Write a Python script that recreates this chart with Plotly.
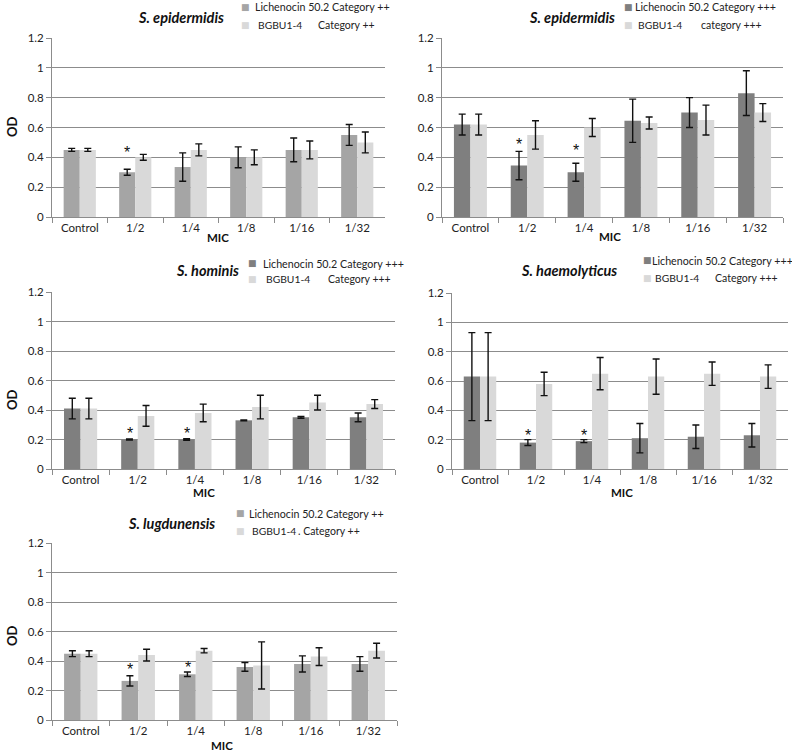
import plotly.graph_objects as go

W, H = 792, 751

categories = ["Control", "1/2", "1/4", "1/8", "1/16", "1/32"]
y_ticks = [0, 0.2, 0.4, 0.6, 0.8, 1, 1.2]
y_tick_labels = ["0", "0.2", "0.4", "0.6", "0.8", "1", "1.2"]

# Panel 1: S. epidermidis, Category ++
epi_pp_lic = [0.45, 0.30, 0.335, 0.40, 0.45, 0.55]
epi_pp_lic_err = [0.01, 0.02, 0.095, 0.07, 0.08, 0.07]
epi_pp_bgb = [0.45, 0.40, 0.45, 0.40, 0.45, 0.50]
epi_pp_bgb_err = [0.01, 0.02, 0.04, 0.05, 0.06, 0.07]
epi_pp_sig = {"1/2": 0.46}

# Panel 2: S. epidermidis, Category +++
epi_ppp_lic = [0.62, 0.345, 0.30, 0.645, 0.70, 0.83]
epi_ppp_lic_err = [0.07, 0.095, 0.06, 0.145, 0.10, 0.15]
epi_ppp_bgb = [0.62, 0.55, 0.60, 0.63, 0.65, 0.70]
epi_ppp_bgb_err = [0.07, 0.095, 0.06, 0.04, 0.10, 0.06]
epi_ppp_sig = {"1/2": 0.515, "1/4": 0.47}

# Panel 3: S. hominis, Category +++
hom_lic = [0.41, 0.20, 0.20, 0.33, 0.35, 0.35]
hom_lic_err = [0.07, 0.004, 0.005, 0.003, 0.006, 0.03]
hom_bgb = [0.41, 0.36, 0.38, 0.42, 0.45, 0.44]
hom_bgb_err = [0.07, 0.07, 0.06, 0.08, 0.05, 0.03]
hom_sig = {"1/2": 0.27, "1/4": 0.27}

# Panel 4: S. haemolyticus, Category +++
hae_lic = [0.63, 0.18, 0.19, 0.21, 0.22, 0.23]
hae_lic_err = [0.30, 0.02, 0.01, 0.10, 0.08, 0.08]
hae_bgb = [0.63, 0.58, 0.65, 0.63, 0.65, 0.63]
hae_bgb_err = [0.30, 0.08, 0.11, 0.12, 0.08, 0.08]
hae_sig = {"1/2": 0.255, "1/4": 0.255}

# Panel 5: S. lugdunensis, Category ++
lug_lic = [0.45, 0.265, 0.31, 0.36, 0.38, 0.38]
lug_lic_err = [0.02, 0.035, 0.015, 0.03, 0.055, 0.05]
lug_bgb = [0.45, 0.44, 0.47, 0.37, 0.43, 0.47]
lug_bgb_err = [0.02, 0.04, 0.015, 0.16, 0.06, 0.05]
lug_sig = {"1/2": 0.37, "1/4": 0.385}

C_PP = "#a5a5a5"
C_PPP = "#7f7f7f"
C_BGB = "#d9d9d9"
GRID = "#8c8c8c"
FONT = "Lato, 'Open Sans', sans-serif"


def px(x, y):
    return x / W, 1 - y / H


panels = [
    dict(title="S. epidermidis", lic=epi_pp_lic, lic_err=epi_pp_lic_err, bgb=epi_pp_bgb,
         bgb_err=epi_pp_bgb_err, sig=epi_pp_sig, col=C_PP,
         box=(52, 385, 38, 217), title_xy=(181, 17), od=(12, 127), mic=(218, 238),
         leg=dict(sq=245, tx=254, y1=7, y2=25, b2x=317,
                  l1="Lichenocin 50.2 Category ++", b1="BGBU1-4", b2="Category ++")),
    dict(title="S. epidermidis", lic=epi_ppp_lic, lic_err=epi_ppp_lic_err, bgb=epi_ppp_bgb,
         bgb_err=epi_ppp_bgb_err, sig=epi_ppp_sig, col=C_PPP,
         box=(442, 783, 38, 217), title_xy=(572, 18), od=None, mic=(610, 236),
         leg=dict(sq=628, tx=634, y1=7, y2=25, b2x=700,
                  l1="Lichenocin 50.2 Category +++", b1="BGBU1-4", b2="category +++")),
    dict(title="S. hominis", lic=hom_lic, lic_err=hom_lic_err, bgb=hom_bgb,
         bgb_err=hom_bgb_err, sig=hom_sig, col=C_PPP,
         box=(52, 395, 292, 469), title_xy=(207, 270), od=(12, 400), mic=(204, 492),
         leg=dict(sq=252, tx=262, y1=263, y2=279, b2x=327,
                  l1="Lichenocin 50.2 Category +++", b1="BGBU1-4", b2="Category +++")),
    dict(title="S. haemolyticus", lic=hae_lic, lic_err=hae_lic_err, bgb=hae_bgb,
         bgb_err=hae_bgb_err, sig=hae_sig, col=C_PPP,
         box=(452, 788, 293, 469), title_xy=(569, 270), od=None, mic=(622, 492),
         leg=dict(sq=647, tx=651, y1=260, y2=278, b2x=714,
                  l1="Lichenocin 50.2 Category +++", b1="BGBU1-4", b2="Category +++")),
    dict(title="S. lugdunensis", lic=lug_lic, lic_err=lug_lic_err, bgb=lug_bgb,
         bgb_err=lug_bgb_err, sig=lug_sig, col=C_PP,
         box=(52, 397, 543, 720), title_xy=(171, 523), od=(12, 636), mic=(222, 745),
         leg=dict(sq=240, tx=248, y1=513, y2=531, b2x=297,
                  l1="Lichenocin 50.2 Category ++", b1="BGBU1-4", b2=". Category ++")),
]

fig = go.Figure()
annotations = []
layout_axes = {}

for i, p in enumerate(panels, start=1):
    xa = "x" if i == 1 else f"x{i}"
    ya = "y" if i == 1 else f"y{i}"
    xkey = "xaxis" if i == 1 else f"xaxis{i}"
    ykey = "yaxis" if i == 1 else f"yaxis{i}"
    x0, x1, ytop, ybot = p["box"]

    fig.add_trace(go.Bar(
        x=categories, y=p["lic"], xaxis=xa, yaxis=ya, marker_color=p["col"],
        marker_line_width=0, showlegend=False, offsetgroup="lic", hoverinfo="skip",
        error_y=dict(type="data", array=p["lic_err"], visible=True, color="#111111",
                     thickness=1.4, width=3.5)))
    fig.add_trace(go.Bar(
        x=categories, y=p["bgb"], xaxis=xa, yaxis=ya, marker_color=C_BGB,
        marker_line_width=0, showlegend=False, offsetgroup="bgb", hoverinfo="skip",
        error_y=dict(type="data", array=p["bgb_err"], visible=True, color="#111111",
                     thickness=1.4, width=3.5)))

    layout_axes[xkey] = dict(
        domain=[x0 / W, x1 / W], anchor=ya, type="category", automargin=False,
        categoryorder="array", categoryarray=categories,
        showline=True, linecolor=GRID, linewidth=1,
        ticks="outside", tickson="boundaries", ticklen=5, tickcolor=GRID,
        showgrid=False, tickfont=dict(family=FONT, size=11.5, color="#222"),
        fixedrange=True)
    layout_axes[ykey] = dict(
        domain=[1 - ybot / H, 1 - ytop / H], anchor=xa, range=[0, 1.2], automargin=False,
        tickmode="array", tickvals=y_ticks, ticktext=y_tick_labels,
        showline=True, linecolor=GRID, linewidth=1,
        ticks="outside", ticklen=5, tickcolor=GRID,
        showgrid=True, gridcolor=GRID, gridwidth=1, zeroline=False,
        tickfont=dict(family=FONT, size=11.5, color="#222"), fixedrange=True)

    # title
    tx, ty = px(*p["title_xy"])
    annotations.append(dict(text=f"<b><i>{p['title']}</i></b>", x=tx, y=ty, xref="paper",
                            yref="paper", showarrow=False, xanchor="center", yanchor="middle",
                            font=dict(family=FONT, size=14.5, color="#111")))
    # OD
    if p["od"]:
        ox, oy = px(*p["od"])
        annotations.append(dict(text="<b>OD</b>", x=ox, y=oy, xref="paper", yref="paper",
                                showarrow=False, textangle=-90, xanchor="center",
                                yanchor="middle", font=dict(family=FONT, size=13, color="#111")))
    # MIC
    mx, my = px(*p["mic"])
    annotations.append(dict(text="<b>MIC</b>", x=mx, y=my, xref="paper", yref="paper",
                            showarrow=False, xanchor="center", yanchor="middle",
                            font=dict(family=FONT, size=11.5, color="#111")))
    # legend
    lg = p["leg"]
    for (yy, colr, txt, tx0, fs) in [(lg["y1"], p["col"], lg["l1"], lg["tx"], 10.7),
                                     (lg["y2"], C_BGB, lg["b1"], lg["tx"] + 3, 10.3)]:
        sx, sy = px(lg["sq"], yy)
        annotations.append(dict(text="■", x=sx, y=sy, xref="paper", yref="paper",
                                showarrow=False, xanchor="center", yanchor="middle",
                                font=dict(family="DejaVu Sans", size=9, color=colr)))
        lx, ly = px(tx0, yy)
        annotations.append(dict(text=txt, x=lx, y=ly, xref="paper", yref="paper",
                                showarrow=False, xanchor="left", yanchor="middle",
                                borderpad=0,
                                font=dict(family=FONT, size=fs, color="#222")))
    bx, by = px(lg["b2x"], lg["y2"])
    annotations.append(dict(text=lg["b2"], x=bx, y=by, xref="paper", yref="paper",
                            showarrow=False, xanchor="left", yanchor="middle", borderpad=0,
                            font=dict(family=FONT, size=10.5, color="#222")))
    # significance stars
    for c, sy in p["sig"].items():
        annotations.append(dict(text="*", x=c, y=sy,
                                xref=xa, yref=ya, showarrow=False, xanchor="center",
                                yanchor="middle", xshift=-8, yshift=-4,
                                font=dict(family="Liberation Sans", size=16, color="#111")))

fig.update_layout(
    width=W, height=H, margin=dict(l=0, r=0, t=0, b=0, autoexpand=False),
    paper_bgcolor="white", plot_bgcolor="white",
    barmode="group", bargap=0.42, bargroupgap=0,
    annotations=annotations, showlegend=False, hovermode=False,
    **layout_axes)

fig.write_html("out.html", config={"displayModeBar": False, "staticPlot": True},
               post_script="document.body.style.margin='0px';document.body.style.overflow='hidden';")
